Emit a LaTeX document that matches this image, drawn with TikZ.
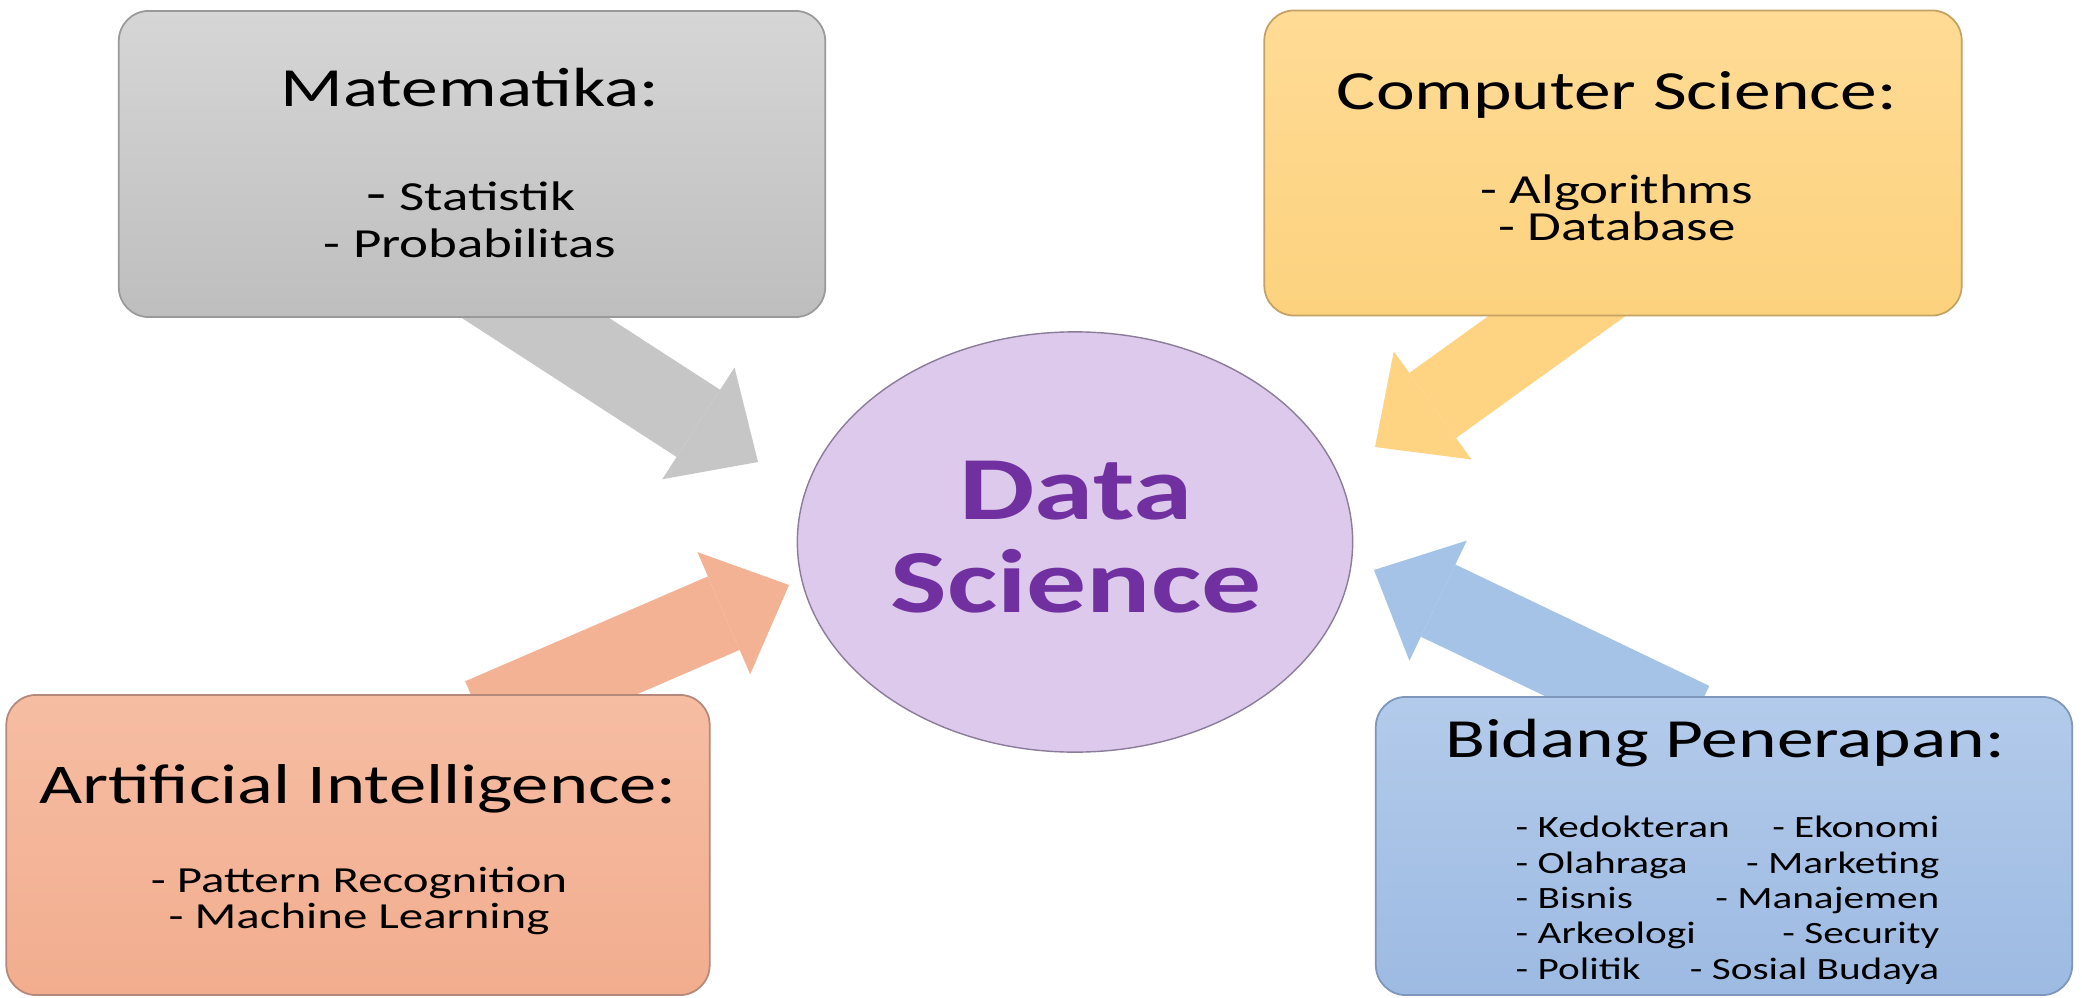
\documentclass[tikz,border=0pt]{standalone}
\usepackage{fontspec}
\setmainfont{Carlito}[FakeStretch=1.33]
\usetikzlibrary{arrows.meta,shapes.geometric}
\definecolor{matTop}{HTML}{D6D6D6}
\definecolor{matBot}{HTML}{BEBEBE}
\definecolor{matLine}{HTML}{9A9A9A}
\definecolor{matArrow}{HTML}{C6C6C6}
\definecolor{csTop}{HTML}{FFDB95}
\definecolor{csBot}{HTML}{FCD27E}
\definecolor{csLine}{HTML}{C4A264}
\definecolor{csArrow}{HTML}{FED382}
\definecolor{aiTop}{HTML}{F6BDA3}
\definecolor{aiBot}{HTML}{F2AD8E}
\definecolor{aiLine}{HTML}{B4887A}
\definecolor{aiArrow}{HTML}{F3B293}
\definecolor{biTop}{HTML}{B3CBEB}
\definecolor{biBot}{HTML}{9DBAE2}
\definecolor{biLine}{HTML}{7D96BA}
\definecolor{biArrow}{HTML}{A5C2E7}
\definecolor{dsFill}{HTML}{DDC9EC}
\definecolor{dsLine}{HTML}{8B7D99}
\definecolor{dsText}{HTML}{7030A0}
\newcommand\fsz[1]{\fontsize{#1}{#1}\selectfont}
\pgfdeclarelayer{bg}
\pgfsetlayers{bg,main}
\begin{document}
\begin{tikzpicture}[x=0.01cm,y=-0.01cm,
  box/.style={draw, rounded corners=0.3cm, line width=0.5pt, inner sep=0pt},
  txt/.style={anchor=base, inner sep=0pt},
  title/.style={txt, font=\fsz{15.7}},
  itemA/.style={txt, font=\fsz{11.75}},
  itemB/.style={txt, font=\fsz{10.45}},
  itemC/.style={inner sep=0pt, font=\fsz{8.82}},
  dstext/.style={txt, font=\fsz{25.6}\bfseries, text=dsText},
  fat/.style={line width=0.80cm, -{Triangle[length=0.71cm, width=1.33cm, line width=0pt]}}]
\useasboundingbox (0,0) rectangle (2082,997);

% boxes and circle
\node[box, draw=matLine, top color=matTop, bottom color=matBot,
  minimum width=7.06cm, minimum height=3.06cm] (mat) at (472,164) {};
\node[box, draw=csLine, top color=csTop, bottom color=csBot,
  minimum width=6.97cm, minimum height=3.05cm] (cs) at (1613,163) {};
\node[box, draw=aiLine, top color=aiTop, bottom color=aiBot,
  minimum width=7.03cm, minimum height=3.00cm] (ai) at (358,845) {};
\node[box, draw=biLine, top color=biTop, bottom color=biBot,
  minimum width=6.96cm, minimum height=2.98cm] (bi) at (1724,846) {};
\node[ellipse, draw=dsLine, fill=dsFill, line width=0.4pt, inner sep=0pt,
  minimum width=5.55cm, minimum height=4.20cm] (ds) at (1075,542) {};

% arrows (behind)
\coordinate (gs) at (483,284);  \coordinate (gt) at (758,462);
\coordinate (ys) at (1607,280); \coordinate (yt) at (1375,447);
\coordinate (ss) at (481,718);  \coordinate (st) at (789,585);
\coordinate (bs) at (1692,722); \coordinate (bt) at (1374,570);
\begin{pgfonlayer}{bg}
\fill[white] (0,0) rectangle (2082,997);
\draw[fat, draw=matArrow] (gs) -- (gt);
\draw[fat, draw=csArrow] (ys) -- (yt);
\draw[fat, draw=aiArrow] (ss) -- (st);
\draw[fat, draw=biArrow] (bs) -- (bt);
\end{pgfonlayer}

% Matematika
\node[title] (matT) at (470,107) {Matematika:};
\node[itemA] (mat1) at (471,210) {{\fsz{14}-} Statistik};
\node[itemA] (mat2) at (470,258) {- Probabilitas};
% Computer Science
\node[title] (csT) at (1617,110) {Computer Science:};
\node[itemA] (cs1) at (1617,203) {- Algorithms};
\node[itemA] (cs2) at (1617,240) {- Database};
% AI
\node[title, font=\fsz{15.95}] (aiT) at (358,803) {Artificial Intelligence:};
\node[itemB] (ai1) at (359,892) {- Pattern Recognition};
\node[itemB] (ai2) at (359,928) {- Machine Learning};
% Bidang
\node[title] (biT) at (1725,757) {Bidang Penerapan:};
\node[itemC, anchor=base west] (b1) at (1515,837) {- Kedokteran};
\node[itemC, anchor=base east] (b2) at (1940,837) {- Ekonomi};
\node[itemC, anchor=base west] (b3) at (1515,873) {- Olahraga};
\node[itemC, anchor=base east] (b4) at (1940,873) {- Marketing};
\node[itemC, anchor=base west] (b5) at (1515,908) {- Bisnis};
\node[itemC, anchor=base east] (b6) at (1940,908) {- Manajemen};
\node[itemC, anchor=base west] (b7) at (1515,943) {- Arkeologi};
\node[itemC, anchor=base east] (b8) at (1940,943) {- Security};
\node[itemC, anchor=base west] (b9) at (1515,979) {- Politik};
\node[itemC, anchor=base east] (b10) at (1940,979) {- Sosial Budaya};
% Data Science
\node[dstext] (ds1) at (1076,519) {Data};
\node[dstext] (ds2) at (1076,612) {Science};
\end{tikzpicture}
\end{document}
